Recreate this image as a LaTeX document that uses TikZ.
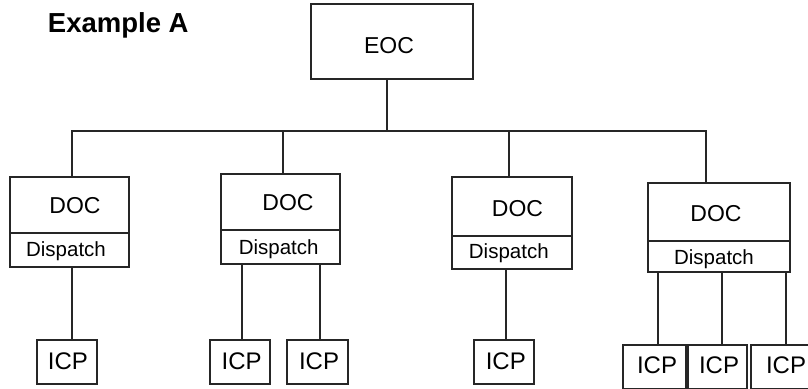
\documentclass[tikz,border=0pt]{standalone}
\usepackage{fontspec}
\setmainfont{Liberation Sans}
\begin{document}
\begin{tikzpicture}[x=1pt,y=-1pt,
  frame/.style={draw=black!85, line width=1.2pt, inner sep=0pt, outer sep=0pt},
  wire/.style={draw=black!85, line width=1.2pt},
  title/.style={anchor=base, inner sep=0pt, font=\fontsize{27.5}{33}\selectfont\bfseries},
  lbl/.style={anchor=base, inner sep=0pt, font=\fontsize{23}{28}\selectfont},
  sub/.style={anchor=base, inner sep=0pt, font=\fontsize{20.5}{25}\selectfont},
  icplbl/.style={anchor=base, inner sep=0pt, font=\fontsize{24}{29}\selectfont},
]
\useasboundingbox (0,0) rectangle (808,388);

% top level
\node[frame, minimum width=162pt, minimum height=75pt] (eoc) at (392,41.5) {};

% district boxes
\node[frame, minimum width=119pt, minimum height=90pt] (doc1) at (69.5,222) {};
\node[frame, minimum width=119pt, minimum height=90pt] (doc2) at (280.5,219) {};
\node[frame, minimum width=120pt, minimum height=92pt] (doc3) at (512,223) {};
\node[frame, minimum width=142pt, minimum height=89pt] (doc4) at (719,227.5) {};

% dispatch dividers
\draw[wire] ([yshift=34pt]doc1.south west) -- ([yshift=34pt]doc1.south east);
\draw[wire] ([yshift=34pt]doc2.south west) -- ([yshift=34pt]doc2.south east);
\draw[wire] ([yshift=33pt]doc3.south west) -- ([yshift=33pt]doc3.south east);
\draw[wire] ([yshift=31pt]doc4.south west) -- ([yshift=31pt]doc4.south east);

% incident command posts
\node[frame, minimum width=60pt, minimum height=44pt] (icp1) at (67,362) {};
\node[frame, minimum width=60pt, minimum height=44pt] (icp2a) at (240,362) {};
\node[frame, minimum width=61pt, minimum height=44pt] (icp2b) at (317.5,362) {};
\node[frame, minimum width=60pt, minimum height=44pt] (icp3) at (504,362) {};
\node[frame, minimum width=63pt, minimum height=44pt] (icp4a) at (654.5,367) {};
\node[frame, minimum width=59pt, minimum height=44pt] (icp4b) at (717.5,367) {};
\node[frame, minimum width=60pt, minimum height=44pt] (icp4c) at (781,367) {};

% bus from the EOC
\coordinate (hub) at (387,131);
\coordinate (t1) at (72,131);
\coordinate (t2) at (283,131);
\coordinate (t3) at (509,131);
\coordinate (t4) at (706,131);
\draw[wire] (eoc.south -| hub) -- (hub);
\draw[wire] (doc1.north -| t1) -- (t1) -- (t4) -- (doc4.north -| t4);
\draw[wire] (t2) -- (doc2.north -| t2);
\draw[wire] (t3) -- (doc3.north -| t3);

% stems down to the ICPs
\coordinate (s1) at (72,300);
\coordinate (s2a) at (242,300);
\coordinate (s2b) at (320,300);
\coordinate (s3) at (506,300);
\coordinate (s4a) at (658,300);
\coordinate (s4b) at (722,300);
\coordinate (s4c) at (786,300);
\draw[wire] (doc1.south -| s1) -- (icp1.north -| s1);
\draw[wire] (doc2.south -| s2a) -- (icp2a.north -| s2a);
\draw[wire] (doc2.south -| s2b) -- (icp2b.north -| s2b);
\draw[wire] (doc3.south -| s3) -- (icp3.north -| s3);
\draw[wire] (doc4.south -| s4a) -- (icp4a.north -| s4a);
\draw[wire] (doc4.south -| s4b) -- (icp4b.north -| s4b);
\draw[wire] (doc4.south -| s4c) -- (icp4c.north -| s4c);

% labels
\node[title] (ttl) at (118.3,32.3) {Example A};
\node[lbl] (eocT) at (389,53.3) {EOC};
\node[lbl] (doc1T) at (75,213) {DOC};
\node[sub] (dsp1T) at (66,256.7) {Dispatch};
\node[lbl] (doc2T) at (288,210) {DOC};
\node[sub] (dsp2T) at (278.7,254) {Dispatch};
\node[lbl] (doc3T) at (517.5,216.7) {DOC};
\node[sub] (dsp3T) at (508.8,258.7) {Dispatch};
\node[lbl] (doc4T) at (716,221) {DOC};
\node[sub] (dsp4T) at (714,264.5) {Dispatch};
\node[icplbl] (icp1T) at (68,369) {ICP};
\node[icplbl] (icp2aT) at (241.7,369) {ICP};
\node[icplbl] (icp2bT) at (319,369) {ICP};
\node[icplbl] (icp3T) at (505.8,369) {ICP};
\node[icplbl] (icp4aT) at (657,373) {ICP};
\node[icplbl] (icp4bT) at (719,373) {ICP};
\node[icplbl] (icp4cT) at (786,373) {ICP};
\end{tikzpicture}
\end{document}
